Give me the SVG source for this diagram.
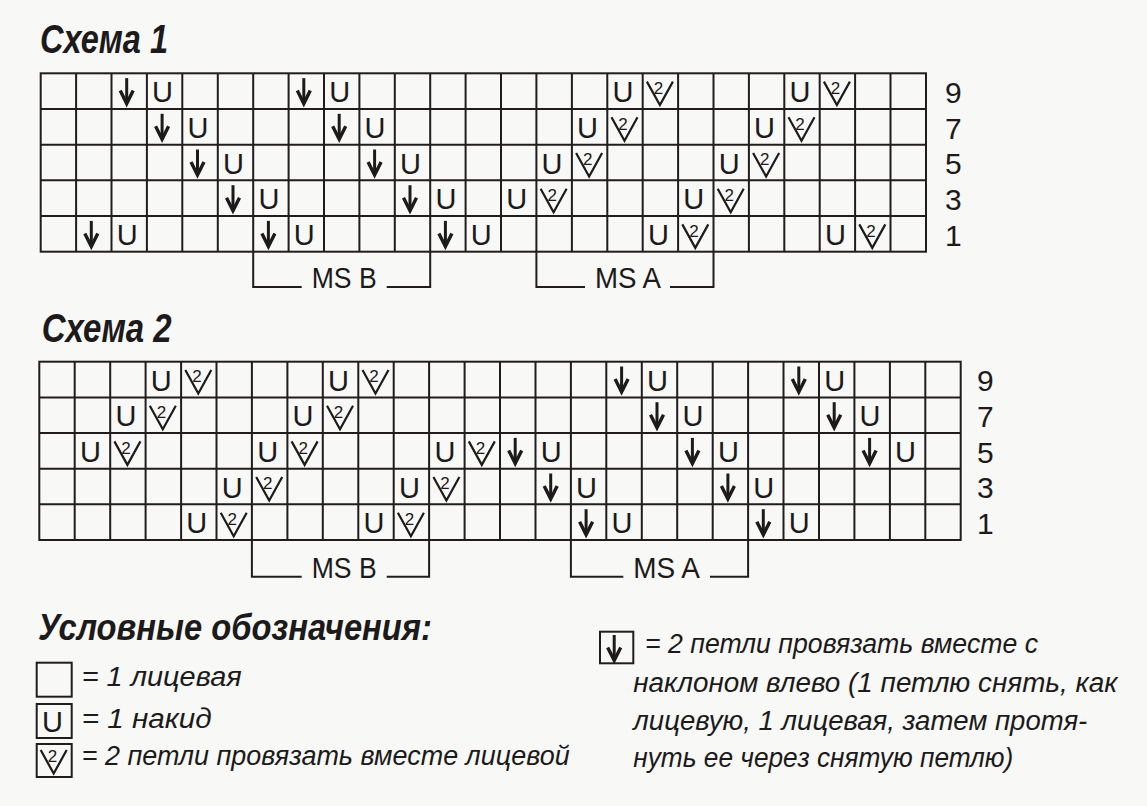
<svg xmlns="http://www.w3.org/2000/svg" xmlns:xlink="http://www.w3.org/1999/xlink" width="1147" height="806" viewBox="0 0 1147 806">
<style>
.grid{fill:none;stroke:#211d1e;stroke-width:2}
.brk{fill:none;stroke:#211d1e;stroke-width:2}
.t{font-family:"Liberation Sans",Arial,sans-serif;fill:#1c1a1b}
.ttl{font-weight:bold;font-style:italic;font-size:40px}
.u{font-size:29px;text-anchor:middle}
.two{font-size:17px;text-anchor:middle}
.num{font-size:30px}
.ms{font-size:30px}
.leg{font-style:italic;font-size:27px}
.lttl{font-weight:bold;font-style:italic;font-size:36px}
.sym{fill:none;stroke:#1c1a1b}
</style>
<defs>
<g id="arr" class="sym"><path d="M-2.5,-13V11" stroke-width="3"/><path d="M-9,-0.5L-2.5,12.5L4,-0.5" stroke-width="3.4" stroke-linejoin="miter"/></g>
<path id="vv" class="sym" d="M-13.5,-9.5L-0.5,14L12.5,-9.5" stroke-width="2.2"/>
</defs>
<rect width="1147" height="806" fill="#f8f8f6"/>

<text class="t ttl" x="40" y="53" textLength="128" lengthAdjust="spacingAndGlyphs">Схема 1</text>

<g id="chart1">
<rect class="grid" x="40.7" y="73.3" width="885.3" height="178.4"/>
<path class="grid" d="M76.1,73.3V251.7M111.5,73.3V251.7M146.9,73.3V251.7M182.3,73.3V251.7M217.8,73.3V251.7M253.2,73.3V251.7M288.6,73.3V251.7M324,73.3V251.7M359.4,73.3V251.7M394.8,73.3V251.7M430.2,73.3V251.7M465.6,73.3V251.7M501,73.3V251.7M536.4,73.3V251.7M571.9,73.3V251.7M607.3,73.3V251.7M642.7,73.3V251.7M678.1,73.3V251.7M713.5,73.3V251.7M748.9,73.3V251.7M784.3,73.3V251.7M819.7,73.3V251.7M855.1,73.3V251.7M890.5,73.3V251.7M40.7,109H926M40.7,144.7H926M40.7,180.3H926M40.7,216H926"/>
<!-- row 9 -->
<use xlink:href="#arr" x="129.2" y="91.1"/><text class="t u" x="162.6" y="102.1">U</text>
<use xlink:href="#arr" x="306.3" y="91.1"/><text class="t u" x="339.7" y="102.1">U</text>
<text class="t u" x="623" y="102.1">U</text><use xlink:href="#vv" x="660.4" y="91.1"/><text class="t two" x="658.5" y="94">2</text>
<text class="t u" x="800" y="102.1">U</text><use xlink:href="#vv" x="837.4" y="91.1"/><text class="t two" x="835.5" y="94">2</text>
<!-- row 7 -->
<use xlink:href="#arr" x="164.6" y="126.8"/><text class="t u" x="198" y="137.8">U</text>
<use xlink:href="#arr" x="341.7" y="126.8"/><text class="t u" x="375.1" y="137.8">U</text>
<text class="t u" x="587.6" y="137.8">U</text><use xlink:href="#vv" x="625" y="126.8"/><text class="t two" x="623.1" y="129.7">2</text>
<text class="t u" x="764.6" y="137.8">U</text><use xlink:href="#vv" x="802" y="126.8"/><text class="t two" x="800.1" y="129.7">2</text>
<!-- row 5 -->
<use xlink:href="#arr" x="200" y="162.5"/><text class="t u" x="233.5" y="173.5">U</text>
<use xlink:href="#arr" x="377.1" y="162.5"/><text class="t u" x="410.5" y="173.5">U</text>
<text class="t u" x="552.1" y="173.5">U</text><use xlink:href="#vv" x="589.6" y="162.5"/><text class="t two" x="587.7" y="165.4">2</text>
<text class="t u" x="729.2" y="173.5">U</text><use xlink:href="#vv" x="766.6" y="162.5"/><text class="t two" x="764.7" y="165.4">2</text>
<!-- row 3 -->
<use xlink:href="#arr" x="235.5" y="198.2"/><text class="t u" x="268.9" y="209.2">U</text>
<use xlink:href="#arr" x="412.5" y="198.2"/><text class="t u" x="445.9" y="209.2">U</text>
<text class="t u" x="516.7" y="209.2">U</text><use xlink:href="#vv" x="554.1" y="198.2"/><text class="t two" x="552.2" y="201.1">2</text>
<text class="t u" x="693.8" y="209.2">U</text><use xlink:href="#vv" x="731.2" y="198.2"/><text class="t two" x="729.3" y="201.1">2</text>
<!-- row 1 -->
<use xlink:href="#arr" x="93.8" y="233.9"/><text class="t u" x="127.2" y="244.9">U</text>
<use xlink:href="#arr" x="270.9" y="233.9"/><text class="t u" x="304.3" y="244.9">U</text>
<use xlink:href="#arr" x="447.9" y="233.9"/><text class="t u" x="481.3" y="244.9">U</text>
<text class="t u" x="658.4" y="244.9">U</text><use xlink:href="#vv" x="695.8" y="233.9"/><text class="t two" x="693.9" y="236.8">2</text>
<text class="t u" x="835.4" y="244.9">U</text><use xlink:href="#vv" x="872.8" y="233.9"/><text class="t two" x="870.9" y="236.8">2</text>
</g>
<g id="rows1">
<text class="t num" x="945" y="103">9</text>
<text class="t num" x="945" y="138.7">7</text>
<text class="t num" x="945" y="174.3">5</text>
<text class="t num" x="945" y="210">3</text>
<text class="t num" x="945" y="245.7">1</text>
</g>
<g id="brackets1">
<path class="brk" d="M253.2,251.7V287H301.7M386.7,287H430.2V251.7"/>
<text class="t ms" x="311.7" y="288" textLength="65" lengthAdjust="spacingAndGlyphs">MS B</text>
<path class="brk" d="M536.4,251.7V287H585M670,287H713.5V251.7"/>
<text class="t ms" x="595" y="288" textLength="66" lengthAdjust="spacingAndGlyphs">MS A</text>
</g>

<text class="t ttl" x="41.7" y="342" textLength="130" lengthAdjust="spacingAndGlyphs">Схема 2</text>

<g id="chart2">
<rect class="grid" x="39.3" y="361.7" width="921.4" height="178.3"/>
<path class="grid" d="M74.7,361.7V540M110.2,361.7V540M145.6,361.7V540M181.1,361.7V540M216.5,361.7V540M251.9,361.7V540M287.4,361.7V540M322.8,361.7V540M358.3,361.7V540M393.7,361.7V540M429.1,361.7V540M464.6,361.7V540M500,361.7V540M535.5,361.7V540M570.9,361.7V540M606.3,361.7V540M641.8,361.7V540M677.2,361.7V540M712.7,361.7V540M748.1,361.7V540M783.5,361.7V540M819,361.7V540M854.4,361.7V540M889.9,361.7V540M925.3,361.7V540M39.3,397.4H960.7M39.3,433H960.7M39.3,468.7H960.7M39.3,504.3H960.7"/>
<!-- row 9 -->
<text class="t u" x="161.3" y="390.5">U</text><use xlink:href="#vv" x="198.8" y="379.5"/><text class="t two" x="196.9" y="382.4">2</text>
<text class="t u" x="338.5" y="390.5">U</text><use xlink:href="#vv" x="376" y="379.5"/><text class="t two" x="374.1" y="382.4">2</text>
<use xlink:href="#arr" x="624.1" y="379.5"/><text class="t u" x="657.5" y="390.5">U</text>
<use xlink:href="#arr" x="801.3" y="379.5"/><text class="t u" x="834.7" y="390.5">U</text>
<!-- row 7 -->
<text class="t u" x="125.9" y="426.2">U</text><use xlink:href="#vv" x="163.3" y="415.2"/><text class="t two" x="161.4" y="418.1">2</text>
<text class="t u" x="303.1" y="426.2">U</text><use xlink:href="#vv" x="340.5" y="415.2"/><text class="t two" x="338.6" y="418.1">2</text>
<use xlink:href="#arr" x="659.5" y="415.2"/><text class="t u" x="692.9" y="426.2">U</text>
<use xlink:href="#arr" x="836.7" y="415.2"/><text class="t u" x="870.1" y="426.2">U</text>
<!-- row 5 -->
<text class="t u" x="90.5" y="461.9">U</text><use xlink:href="#vv" x="127.9" y="450.9"/><text class="t two" x="126" y="453.8">2</text>
<text class="t u" x="267.7" y="461.9">U</text><use xlink:href="#vv" x="305.1" y="450.9"/><text class="t two" x="303.2" y="453.8">2</text>
<text class="t u" x="444.9" y="461.9">U</text><use xlink:href="#vv" x="482.3" y="450.9"/><text class="t two" x="480.4" y="453.8">2</text>
<use xlink:href="#arr" x="517.7" y="450.9"/><text class="t u" x="551.2" y="461.9">U</text>
<use xlink:href="#arr" x="694.9" y="450.9"/><text class="t u" x="728.4" y="461.9">U</text>
<use xlink:href="#arr" x="872.1" y="450.9"/><text class="t u" x="905.6" y="461.9">U</text>
<!-- row 3 -->
<text class="t u" x="232.2" y="497.5">U</text><use xlink:href="#vv" x="269.7" y="486.5"/><text class="t two" x="267.8" y="489.4">2</text>
<text class="t u" x="409.4" y="497.5">U</text><use xlink:href="#vv" x="446.9" y="486.5"/><text class="t two" x="445" y="489.4">2</text>
<use xlink:href="#arr" x="553.2" y="486.5"/><text class="t u" x="586.6" y="497.5">U</text>
<use xlink:href="#arr" x="730.4" y="486.5"/><text class="t u" x="763.8" y="497.5">U</text>
<!-- row 1 -->
<text class="t u" x="196.8" y="533.2">U</text><use xlink:href="#vv" x="234.2" y="522.2"/><text class="t two" x="232.3" y="525.1">2</text>
<text class="t u" x="374" y="533.2">U</text><use xlink:href="#vv" x="411.4" y="522.2"/><text class="t two" x="409.5" y="525.1">2</text>
<use xlink:href="#arr" x="588.6" y="522.2"/><text class="t u" x="622.1" y="533.2">U</text>
<use xlink:href="#arr" x="765.8" y="522.2"/><text class="t u" x="799.3" y="533.2">U</text>
</g>
<g id="rows2">
<text class="t num" x="977" y="391.4">9</text>
<text class="t num" x="977" y="427">7</text>
<text class="t num" x="977" y="462.7">5</text>
<text class="t num" x="977" y="498.3">3</text>
<text class="t num" x="977" y="534">1</text>
</g>
<g id="brackets2">
<path class="brk" d="M251.9,540V576.7H301.7M386.7,576.7H429.1V540"/>
<text class="t ms" x="311.7" y="577.5" textLength="65" lengthAdjust="spacingAndGlyphs">MS B</text>
<path class="brk" d="M570.9,540V576.7H623.3M710,576.7H748.1V540"/>
<text class="t ms" x="633.3" y="577.5" textLength="66.7" lengthAdjust="spacingAndGlyphs">MS A</text>
</g>

<g id="legend">
<text class="t lttl" x="38" y="640" textLength="394" lengthAdjust="spacingAndGlyphs">Условные обозначения:</text>
<g id="leg-knit">
<rect class="grid" x="36.7" y="662.7" width="35" height="34" stroke-width="1.8"/>
<text class="t leg" x="81.7" y="686" textLength="160" lengthAdjust="spacingAndGlyphs">= 1 лицевая</text>
</g>
<g id="leg-yo">
<rect class="grid" x="36.7" y="704" width="35" height="34" stroke-width="1.8"/>
<text class="t u" x="52.5" y="732">U</text>
<text class="t leg" x="81.7" y="728" textLength="130" lengthAdjust="spacingAndGlyphs">= 1 накид</text>
</g>
<g id="leg-k2tog">
<rect class="grid" x="36.7" y="744" width="35" height="33" stroke-width="1.8"/>
<use xlink:href="#vv" x="54.2" y="759.5"/><text class="t two" x="52.5" y="762.4">2</text>
<text class="t leg" x="81.7" y="765" textLength="488" lengthAdjust="spacingAndGlyphs">= 2 петли провязать вместе лицевой</text>
</g>
<g id="leg-skp">
<rect class="grid" x="600" y="631.7" width="33.3" height="31.6" stroke-width="1.8"/>
<use xlink:href="#arr" x="616.7" y="648"/>
<text class="t leg" x="645" y="653.3" textLength="393" lengthAdjust="spacingAndGlyphs">= 2 петли провязать вместе с</text>
<text class="t leg" x="633.3" y="691.7" textLength="484" lengthAdjust="spacingAndGlyphs">наклоном влево (1 петлю снять, как</text>
<text class="t leg" x="633.3" y="729.5" textLength="454" lengthAdjust="spacingAndGlyphs">лицевую, 1 лицевая, затем протя-</text>
<text class="t leg" x="633.3" y="766.7" textLength="380" lengthAdjust="spacingAndGlyphs">нуть ее через снятую петлю)</text>
</g>
</g>
</svg>
